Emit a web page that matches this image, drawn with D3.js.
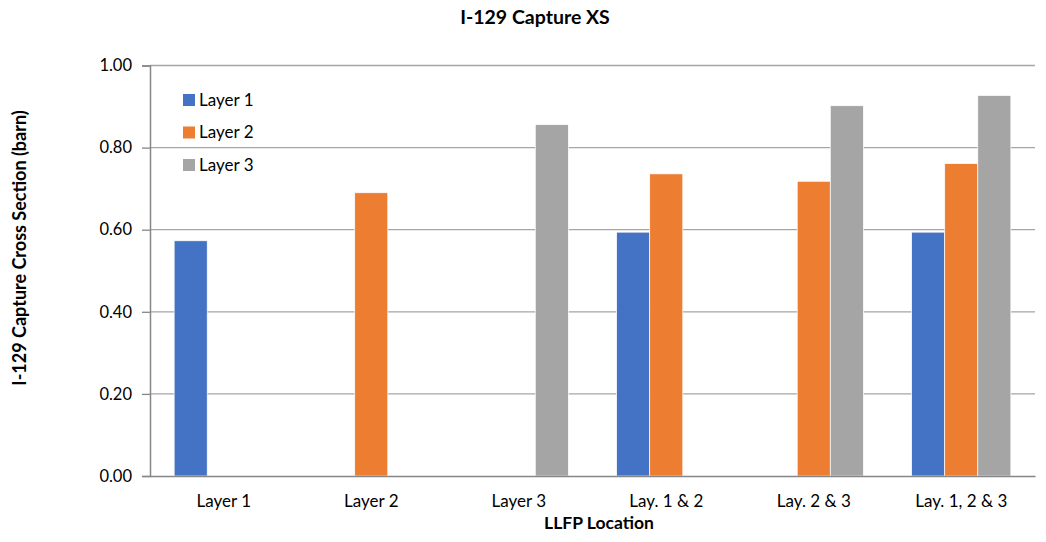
<!DOCTYPE html>
<html>
<head>
<meta charset="utf-8">
<script src="https://cdn.jsdelivr.net/npm/d3@7"></script>
<style>
  body { margin: 0; background: #fff; }
  text { font-family: Lato, "Open Sans", sans-serif; fill: #000; }
</style>
</head>
<body>
<svg id="chart" width="1046" height="542"></svg>
<script>
// Chart data
const categories = ["Layer 1", "Layer 2", "Layer 3", "Lay. 1 & 2", "Lay. 2 & 3", "Lay. 1, 2 & 3"];
const seriesNames = ["Layer 1", "Layer 2", "Layer 3"];
const layer1 = [0.573, null, null, 0.594, null, 0.594];
const layer2 = [null, 0.690, null, 0.736, 0.718, 0.761];
const layer3 = [null, null, 0.856, null, 0.902, 0.927];
const yTicks = [0, 0.2, 0.4, 0.6, 0.8, 1.0];
const colors = ["#4472c4", "#ed7d31", "#a5a5a5"];

const series = [layer1, layer2, layer3];
const svg = d3.select("#chart");
const margin = { left: 150, right: 1035, top: 65.5, bottom: 476 };

const x = d3.scaleBand().domain(categories).range([margin.left, margin.right]).paddingInner(0).paddingOuter(0);
// cluster of three bars, with space on both sides inside each category slot
const x1 = d3.scaleBand().domain(seriesNames).range([0, x.bandwidth()]).paddingInner(0).paddingOuter(0.73);
const y = d3.scaleLinear().domain([0, 1]).range([margin.bottom, margin.top]);

// Gridlines
svg.append("g").selectAll("line").data(yTicks.filter(d => d > 0)).join("line")
  .attr("x1", margin.left).attr("x2", margin.right)
  .attr("y1", d => y(d)).attr("y2", d => y(d))
  .attr("stroke", "#a6a6a6").attr("stroke-width", 1.3);

// Bars
const bars = [];
series.forEach((vals, si) => vals.forEach((v, ci) => {
  if (v != null) bars.push({ s: seriesNames[si], c: categories[ci], v, color: colors[si] });
}));
svg.append("g").selectAll("rect").data(bars).join("rect")
  .attr("x", d => x(d.c) + x1(d.s))
  .attr("width", x1.bandwidth())
  .attr("y", d => y(d.v))
  .attr("height", d => y(0) - y(d.v))
  .attr("fill", d => d.color)
  .attr("stroke", "#fff").attr("stroke-width", 0.7);

// Axes
const yAxis = d3.axisLeft(y).tickValues(yTicks).tickFormat(d3.format(".2f")).tickSize(8).tickPadding(6);
const gy = svg.append("g").attr("transform", `translate(${margin.left},0)`).call(yAxis);
gy.select(".domain").attr("stroke", "#868686").attr("stroke-width", 1.5);
gy.selectAll(".tick line").attr("stroke", "#868686").attr("stroke-width", 1.3);
gy.selectAll(".tick text").style("font-size", "16.5px").attr("dx", "-4");

const xAxis = d3.axisBottom(x).tickSize(0).tickPadding(19);
const gx = svg.append("g").attr("transform", `translate(0,${margin.bottom})`).call(xAxis);
gx.select(".domain").attr("stroke", "#868686").attr("stroke-width", 1.5);
gx.selectAll(".tick text").style("font-size", "17px");

// Titles
svg.append("text").attr("x", 535).attr("y", 24).attr("text-anchor", "middle")
  .style("font-size", "19.5px").style("font-weight", "bold").text("I-129 Capture XS");
svg.append("text").attr("x", 599).attr("y", 529).attr("text-anchor", "middle")
  .style("font-size", "17.5px").style("font-weight", "bold").text("LLFP Location");
svg.append("text").attr("transform", "translate(26,248) rotate(-90)").attr("text-anchor", "middle")
  .style("font-size", "18px").style("font-weight", "bold").text("I-129 Capture Cross Section (barn)");

// Legend
const legend = svg.append("g").selectAll("g").data(seriesNames).join("g")
  .attr("transform", (d, i) => `translate(183,${100 + i * 32.5})`);
legend.append("rect").attr("x", 0).attr("y", -6).attr("width", 12).attr("height", 12)
  .attr("fill", (d, i) => colors[i]);
legend.append("text").attr("x", 16).attr("y", 0).attr("dy", "0.35em")
  .style("font-size", "17px").text(d => d);
</script>
</body>
</html>
